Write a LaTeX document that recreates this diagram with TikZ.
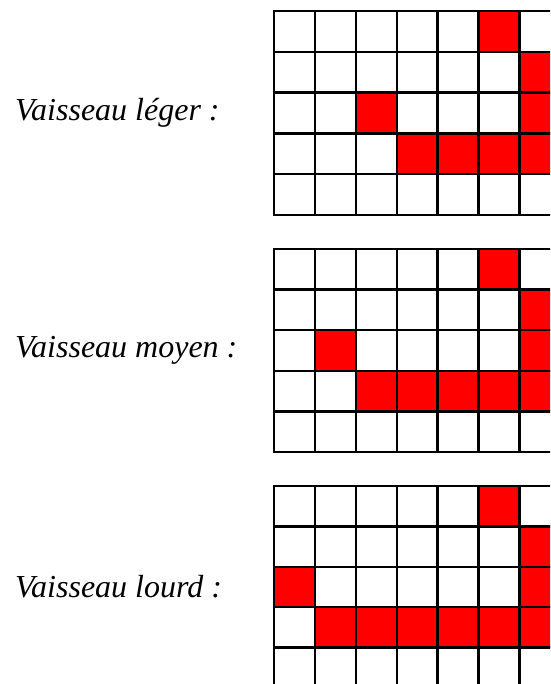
\documentclass[tikz,border=0pt]{standalone}
\usepackage{fontspec}
\setmainfont{Liberation Serif}
\begin{document}
\begin{tikzpicture}[x=1pt,y=-1pt,
  gridline/.style={line width=2.3pt,black,line cap=rect},
  cellfill/.style={fill=red},
  lbl/.style={anchor=west,inner sep=0pt,font=\itshape\fontsize{32}{32}\selectfont}]
\useasboundingbox (0,0) rectangle (550,684);
\clip (0,0) rectangle (550,684);
\fill[white] (0,0) rectangle (550,684);
% grid 1
\begin{scope}[shift={(274,11)},x=40.9pt,y=-40.8pt]
  \foreach \c/\r in {5/0,6/1,2/2,6/2,3/3,4/3,5/3,6/3}
    \fill[cellfill] (\c,\r) rectangle ++(1,1);
  \foreach \i in {0,...,7} \draw[gridline] (\i,0) -- (\i,5);
  \foreach \j in {0,...,5} \draw[gridline] (0,\j) -- (7.5,\j);
\end{scope}
% grid 2
\begin{scope}[shift={(274,249)},x=40.9pt,y=-40.6pt]
  \foreach \c/\r in {5/0,6/1,1/2,6/2,2/3,3/3,4/3,5/3,6/3}
    \fill[cellfill] (\c,\r) rectangle ++(1,1);
  \foreach \i in {0,...,7} \draw[gridline] (\i,0) -- (\i,5);
  \foreach \j in {0,...,5} \draw[gridline] (0,\j) -- (7.5,\j);
\end{scope}
% grid 3
\begin{scope}[shift={(274,486)},x=40.9pt,y=-40.4pt]
  \foreach \c/\r in {5/0,6/1,0/2,6/2,1/3,2/3,3/3,4/3,5/3,6/3}
    \fill[cellfill] (\c,\r) rectangle ++(1,1);
  \foreach \i in {0,...,7} \draw[gridline] (\i,0) -- (\i,5);
  \foreach \j in {0,...,5} \draw[gridline] (0,\j) -- (7.5,\j);
\end{scope}
\node[lbl] (leger) at (15,113) {Vaisseau léger :};
\node[lbl] (moyen) at (15,350) {Vaisseau moyen :};
\node[lbl] (lourd) at (15,587) {Vaisseau lourd :};
\end{tikzpicture}
\end{document}
